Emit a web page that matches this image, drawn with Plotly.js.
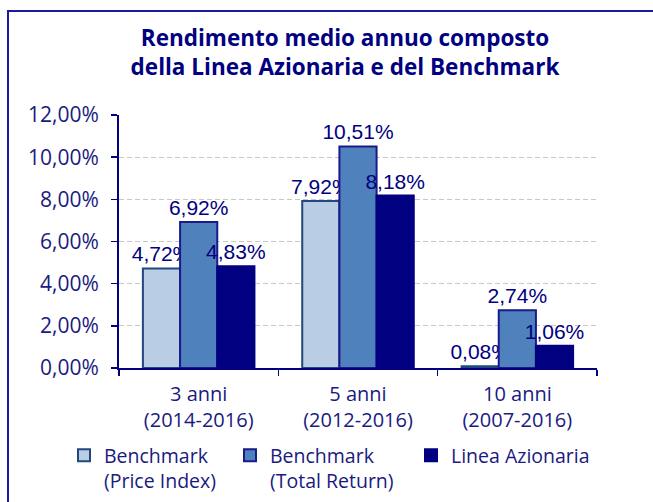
<!DOCTYPE html>
<html>
<head>
<meta charset="utf-8">
<script src="https://cdn.plot.ly/plotly-3.0.1.min.js"></script>
<style>
html,body{margin:0;padding:0;background:#fff;}
#chart{width:653px;height:502px;}
</style>
</head>
<body>
<div id="chart"></div>
<script>
const categories = ["3 anni<br>(2014-2016)", "5 anni<br>(2012-2016)", "10 anni<br>(2007-2016)"];
const seriesNames = ["Benchmark<br>(Price Index)", "Benchmark<br>(Total Return)", "Linea Azionaria"];
const priceIndex = [4.72, 7.92, 0.08];
const totalReturn = [6.92, 10.51, 2.74];
const lineaAzionaria = [4.83, 8.18, 1.06];
const yTicks = [0, 2, 4, 6, 8, 10, 12];

const fills = ["#b9cde5", "#4f81bd", "#000080"];
const borders = ["#1f497d", "#1a1a8c", "#000080"];
const allSeries = [priceIndex, totalReturn, lineaAzionaria];
const legendIds = ['legend', 'legend2', 'legend3'];

function fmt(v){ return v.toFixed(2).replace('.', ',') + '%'; }

const traces = allSeries.map((vals, i) => ({
  type: 'bar',
  name: seriesNames[i],
  legend: legendIds[i],
  x: categories,
  y: vals.map(v => v / 100),
  text: vals.map(fmt),
  textposition: 'outside',
  constraintext: 'none',
  cliponaxis: false,
  textfont: {family: 'Liberation Sans, Arial, sans-serif', size: 21, color: '#000080'},
  marker: {color: fills[i], line: {color: borders[i], width: 2}},
  hoverinfo: 'skip'
}));

const L = 119, R = 56, T = 115, B = 134;
const W = 653 - L - R, H = 502 - T - B;
const px = x => (x - L) / W;
const py = y => (502 - B - y) / H;

function legendAt(xpx){
  return {
    orientation: 'v',
    x: px(xpx), xanchor: 'left',
    y: py(436), yanchor: 'top',
    font: {family: 'Open Sans, sans-serif', size: 19.5, color: '#1a1a80'},
    valign: 'top',
    itemwidth: 30,
    bgcolor: 'rgba(0,0,0,0)'
  };
}

const layout = {
  width: 653, height: 502,
  margin: {l: L, r: R, t: T, b: B, pad: 0, autoexpand: false},
  paper_bgcolor: '#ffffff', plot_bgcolor: '#ffffff',
  separators: ',.',
  barmode: 'group',
  bargap: 0.30,
  bargroupgap: 0,
  showlegend: true,
  title: {
    text: 'Rendimento medio annuo composto<br>della Linea Azionaria e del Benchmark',
    font: {family: 'Open Sans, sans-serif', size: 22.5, color: '#000080', weight: 'bold'},
    x: 345 / 653, xanchor: 'center', xref: 'container',
    y: 1 - 46 / 502, yanchor: 'middle', yref: 'container'
  },
  xaxis: {
    type: 'category',
    tickson: 'boundaries',
    ticks: 'outside', ticklen: 6, tickwidth: 1.5, tickcolor: '#000080',
    showline: true, linecolor: '#000080', linewidth: 2,
    showgrid: false, zeroline: false,
    tickfont: {family: 'Open Sans, sans-serif', size: 20, color: '#1a1a80'},
    ticklabelstandoff: 7,
    automargin: false,
    fixedrange: true
  },
  yaxis: {
    range: [0, 0.12],
    tickvals: yTicks.map(v => v / 100),
    ticktext: yTicks.map(fmt),
    ticks: 'outside', ticklen: 6, tickwidth: 1.5, tickcolor: '#000080',
    showline: true, linecolor: '#000080', linewidth: 2,
    showgrid: true, gridcolor: '#c8c8c8', griddash: '5px,3px', gridwidth: 1,
    zeroline: false,
    tickfont: {family: 'Open Sans, sans-serif', size: 21, color: '#1a1a80'},
    ticklabelstandoff: 8,
    automargin: false,
    fixedrange: true
  },
  legend: legendAt(64),
  legend2: legendAt(230),
  legend3: legendAt(411),
  shapes: [{
    type: 'rect', xref: 'paper', yref: 'paper',
    x0: px(8), x1: px(700), y0: py(560), y1: py(11),
    line: {color: '#1a1aa0', width: 2}, fillcolor: 'rgba(0,0,0,0)', layer: 'below'
  }]
};

Plotly.newPlot('chart', traces, layout, {displayModeBar: false, staticPlot: true});
</script>
</body>
</html>
